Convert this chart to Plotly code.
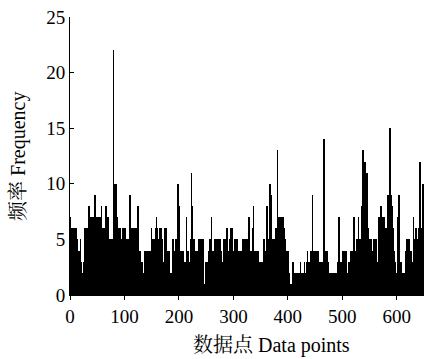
import plotly.graph_objects as go

# Frequency values per data point, split into segments
freq_a = [7,6,6,6,2,6,6,1,6,6, 6,6,3,4,5,1,4,4,2,5, 3,2,1,0,2,1,3,6,4,6,
          6,4,6,5,8,8,6,3,6,7, 6,7,4,6,7,6,9,5,7,2, 7,7,3,7,6,7,5,7,8,6,
          5,6,4,6,5,6,8,7,7,3, 7,5,4,5,2,4,5,3,4,5, 22,10,6,10,8,10,7,6,5,6,
          5,6,4,6,5,3,6,5,4,6, 4,6,5,4,5]
freq_b = [5,4,5,5,4, 9,5,6, 5,6,3,6,5,6, 6,5,6, 5,2,5, 8,4, 4,1,4,3, 3,1,3,2,
          1,1,4, 4,4,3,4,4,3,4,4, 4,3,4,3, 6,4, 5,4,5,4,5, 6,5, 7,6, 6,5,4,6,5,
          6,2,6,5, 3,2,3,3, 6,5,6,6,4, 4,4,3,4, 3,2, 2,2,1, 5,1,5,4, 4,3,4,
          5,4,5, 10,4, 8,5, 4,1,4,4,3, 4,4,3, 3,3,2,3, 7,4]
freq_c = [3,2,4,3,2, 4,5, 11,6, 8,5, 5,4,5,4, 4,3,4,4,3,4, 5,4,5, 4,5,3,5,4,5,
          1,0,1, 3,3,2,3,3, 4,4,4, 5,4,5, 7,4, 4,3,4,4, 5,4,5,
          5,5,4,5,5,3,5,5,4, 3,3,2,3,3, 5,5,4,5, 6,5,6, 4,3,4, 5,4,5, 6,6,4,
          4,4,3, 5,4,5,4,4,5,4, 3,3, 4,3,4,4,3,4, 5,4,5, 5,5,4]
freq_d = [5,4,5, 4,3,4, 7,4,3, 4,3,4, 6,3, 8,4, 3,4, 4,4,3,4,4,
          3,3,3,2,3,3,3,3,3, 5,4,5, 4,4,3,4, 8,4, 5,3,4, 10,5, 9,5,
          5,5,4,5,5,5,4, 6,5,6, 13, 7,6,7,7, 7,7,6,7,7,7,7, 6,6,5, 4,4,3,4,4,
          2,2, 1,0,1, 0,1,0, 3,1, 1,1, 2,2,1,2, 2,1,2,2,1,2, 3,2,2, 2,2,1,2,2, 3,2]
freq_e = [2,3,2, 4,3,3, 3,3,2, 4,3,4, 9,4,4, 4,3,4, 4,4,3, 3,4,3, 2,2,3, 2,2,2,
          3,3,2, 14,4, 4,3,4, 3,4,4,3, 3,2, 2,1,2,1, 1,2,1,2, 2,2,2, 1,2,2,
          3,2,3, 7, 5,3,3, 3,3, 4,3,4,3,4,3, 3,4,3, 2,2,3, 3,3,3, 4,4,3, 4,4,4,
          7,4, 4,4,3,4, 5,4,5, 7,5, 5,5,4, 8,6,5, 13,11, 12,11,12, 11,10,11]
freq_f = [5,6, 5,4,5,5,4,5,4, 4,1,4, 5,5,4, 5,3,5, 3,3,2, 7,5,6, 8,7,8,
          7,7,6,7,7, 6,6,5,6,6, 7,9,8, 9,9, 15,9, 9,8, 6,6,5, 4,4,3, 2,2,2,
          7,6,4, 9,3, 3,2, 2,3,2, 2,2,1,2,2, 4,4,3, 5,4,5, 5,5,4, 4,4,3, 3,3,3,
          7,5,5, 6,5,6, 5,4,4, 6,6,5, 12,6, 6,6, 10,9,10]

frequency = freq_a + freq_b + freq_c + freq_d + freq_e + freq_f
data_points = list(range(len(frequency)))

x_ticks = [0, 100, 200, 300, 400, 500, 600]
y_ticks = [0, 5, 10, 15, 20, 25]
x_title = "数据点 Data points"
y_title = "频率 Frequency"

font_family = "Liberation Serif, Noto Serif CJK SC, Noto Sans CJK SC, serif"

fig = go.Figure(go.Bar(
    x=data_points, y=frequency,
    marker=dict(color="black", line=dict(width=0)),
    width=1.0,
))

fig.update_layout(
    width=425, height=359,
    margin=dict(l=70, r=1, t=17, b=64),
    paper_bgcolor="white", plot_bgcolor="white",
    bargap=0, showlegend=False,
    font=dict(family=font_family, size=19, color="black"),
    annotations=[
        dict(text=x_title, xref="paper", yref="paper", x=0.568, y=-0.18,
             xanchor="center", yanchor="middle", showarrow=False,
             font=dict(size=20, color="black")),
        dict(text=y_title, xref="paper", yref="paper", x=-0.147, y=0.5,
             xanchor="center", yanchor="middle", showarrow=False, textangle=-90,
             font=dict(size=20, color="black")),
    ],
)
fig.update_xaxes(
    range=[0, 650], tickvals=x_ticks, ticks="outside", ticklen=4, tickwidth=1,
    tickcolor="black", showline=True, linecolor="black", linewidth=1,
    showgrid=False, zeroline=False, tickfont=dict(size=19, color="black"),
)
fig.update_yaxes(
    range=[0, 25], tickvals=y_ticks, ticks="inside", ticklen=4, tickwidth=1,
    tickcolor="black", showline=True, linecolor="black", linewidth=1,
    showgrid=False, zeroline=False, tickfont=dict(size=19, color="black"),
)

fig.write_html("out.html")
